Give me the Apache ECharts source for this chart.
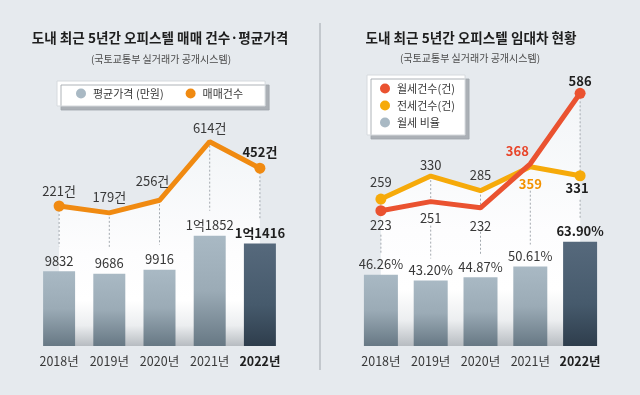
<!DOCTYPE html>
<html><head><meta charset="utf-8">
<script src="https://cdn.jsdelivr.net/npm/echarts@6/dist/echarts.min.js"></script>
<style>html,body{margin:0;padding:0;background:#e6eaee}#c{width:640px;height:395px}</style>
</head><body><div id="c"></div>
<script>
// ---------- data ----------
const years = ['2018년', '2019년', '2020년', '2021년', '2022년'];
const avgPrice = [9832, 9686, 9916, 11852, 11416];      // 평균가격 (만원)
const salesCount = [221, 179, 256, 614, 452];           // 매매건수
const monthlyRent = [223, 251, 232, 368, 586];          // 월세건수(건)
const jeonseCount = [259, 330, 285, 359, 331];          // 전세건수(건)
const monthlyRatio = [46.26, 43.20, 44.87, 50.61, 63.90]; // 월세 비율 (%)

const leftTitle = '도내 최근 5년간 오피스텔 매매 건수·평균가격';
const rightTitle = '도내 최근 5년간 오피스텔 임대차 현황';
const sourceText = '(국토교통부 실거래가 공개시스템)';
const leftNames = ['평균가격 (만원)', '매매건수'];
const rightNames = ['월세건수(건)', '전세건수(건)', '월세 비율'];

// ---------- style ----------
const FONT = '"Noto Sans CJK KR", "Noto Sans", sans-serif';
const C = {
  bg: '#e6eaee', text: '#383838', strong: '#1e1e1e',
  orange: '#f08a11', red: '#ea5230', yellow: '#f6aa0a', grey: '#a9b9c4'
};
const lightBar = {type:'linear', x:0, y:0, x2:0, y2:1, colorStops:[
  {offset:0, color:'#a9b9c4'}, {offset:0.5, color:'#9babb6'}, {offset:1, color:'#677884'}]};
const darkBar = {type:'linear', x:0, y:0, x2:0, y2:1, colorStops:[
  {offset:0, color:'#56697c'}, {offset:0.6, color:'#465a6c'}, {offset:1, color:'#2e3d4c'}]};
function areaGrad(y0) {
  return {type:'linear', x:0, y:y0, x2:0, y2:346, global:true, colorStops:[
    {offset:0, color:'#f2f5f7'}, {offset:0.55, color:'#fdfdfe'}, {offset:0.78, color:'#ffffff'},
    {offset:0.9, color:'#eceef0'}, {offset:1, color:'#b7bcc1'}]};
}
// hidden value-axis ranges (layout)
const AX = { lBar:[5594, 20685], lLine:[-634.7, 991], rBar:[8.146, 150.3], rLine:[-195.4, 627.1] };

const labelBase = {show:true, fontSize:13, color:C.text, fontFamily:FONT};
const endSym = (i) => (i === 0 || i === 4) ? 11 : 0;

// per-point label tweaks (style)
const salesLabel = [
  {position:'top', distance:3}, {position:'top', distance:9},
  {position:'top', distance:13, offset:[-7,0]}, {position:'top', distance:7},
  {position:'top', distance:4, fontWeight:'bold', color:C.strong}];
const rentLabel = [
  {position:'bottom', distance:2}, {position:'bottom', distance:10},
  {position:'bottom', distance:12}, {position:'top', distance:6, offset:[-13,0], fontWeight:'bold', color:'#e8452a'},
  {position:'top', distance:0, fontWeight:'bold', color:C.strong}];
const jeonseLabel = [
  {position:'top', distance:5}, {position:'top', distance:5},
  {position:'top', distance:9}, {position:'bottom', distance:11, fontWeight:'bold', color:'#f39200'},
  {position:'bottom', distance:0, offset:[-3,0], fontWeight:'bold', color:C.strong}];

function lineData(vals, labels) {
  return vals.map((v, i) => ({value:v, symbolSize:endSym(i), label:Object.assign({}, labelBase, labels[i])}));
}
function barData(vals) {
  return vals.map((v, i) => ({value:v, itemStyle:{color: i === 4 ? darkBar : lightBar},
    label: i === 4 ? {fontWeight:'bold', color:C.strong} : {}}));
}
const fmtPrice = (p) => { const v = p.value; return v >= 10000 ? Math.floor(v/10000) + '억' + (v % 10000) : String(v); };
const fmtPct = (p) => p.value.toFixed(2) + '%';

const xData = years.map((y, i) => i === 4 ? {value:y, textStyle:{fontWeight:'bold', color:C.strong}} : y);
function xAxis(g) {
  return {type:'category', gridIndex:g, data:xData, boundaryGap:true,
    axisLine:{show:false}, axisTick:{show:false}, splitLine:{show:false},
    axisLabel:{interval:0, margin:9, fontSize:12.5, color:C.text, fontFamily:FONT}};
}
function yAxis(g, r) { return {type:'value', gridIndex:g, min:r[0], max:r[1], show:false, splitLine:{show:false}}; }

const legendCommon = {
  icon:'circle', itemWidth:10, itemHeight:10, backgroundColor:'#ffffff',
  borderColor:'#d6dade', borderWidth:1, borderRadius:0,
  shadowColor:'rgba(160,166,172,0.85)', shadowOffsetX:4, shadowOffsetY:4, shadowBlur:0,
  textStyle:{fontSize:11, color:C.text, fontFamily:FONT, padding:[0,0,0,2]}, selectedMode:false
};

const titles = [
  {type:'text', x:160, y:38, z:10, style:{text:leftTitle, fill:C.strong, font:'bold 13.6px ' + FONT, align:'center', verticalAlign:'middle'}},
  {type:'text', x:161, y:59, z:10, style:{text:sourceText, fill:'#4a4a4a', font:'10px ' + FONT, align:'center', verticalAlign:'middle'}},
  {type:'text', x:471, y:38, z:10, style:{text:rightTitle, fill:C.strong, font:'bold 13.6px ' + FONT, align:'center', verticalAlign:'middle'}},
  {type:'text', x:470, y:58, z:10, style:{text:sourceText, fill:'#4a4a4a', font:'10px ' + FONT, align:'center', verticalAlign:'middle'}},
  {type:'line', z:10, shape:{x1:320, y1:23, x2:320, y2:370}, style:{stroke:'#c3c8cd', lineWidth:2}}
];

const chart = echarts.init(document.getElementById('c'), null, {renderer:'canvas'});
const option = {
  animation:false,
  backgroundColor:C.bg,
  textStyle:{fontFamily:FONT},
  graphic:{elements:titles},
  legend:[
    Object.assign({}, legendCommon, {orient:'horizontal', left:57, top:81, padding:[7,22,7,19], itemGap:22,
      data:[{name:leftNames[0], itemStyle:{color:C.grey}}, {name:leftNames[1], itemStyle:{color:C.orange}}]}),
    Object.assign({}, legendCommon, {orient:'vertical', left:367, top:75, padding:[8,10,7,13], itemGap:6,
      data:[{name:rightNames[0], itemStyle:{color:C.red}}, {name:rightNames[1], itemStyle:{color:C.yellow}},
            {name:rightNames[2], itemStyle:{color:C.grey}}]})
  ],
  grid:[
    {left:34, right:355, top:80, bottom:49},
    {left:356, right:35, top:80, bottom:49}
  ],
  xAxis:[xAxis(0), xAxis(1)],
  yAxis:[yAxis(0, AX.lBar), yAxis(0, AX.lLine), yAxis(1, AX.rBar), yAxis(1, AX.rLine)],
  series:[
    // area fills (under lines)
    {type:'line', name:'_areaL', xAxisIndex:0, yAxisIndex:1, data:salesCount, symbol:'none', silent:true, z:1,
      lineStyle:{width:0}, areaStyle:{origin:'start', color:areaGrad(140), opacity:1}},
    {type:'line', name:'_areaR1', xAxisIndex:1, yAxisIndex:3, data:monthlyRent, symbol:'none', silent:true, z:1,
      lineStyle:{width:0}, areaStyle:{origin:'start', color:areaGrad(90), opacity:1}},
    {type:'line', name:'_areaR2', xAxisIndex:1, yAxisIndex:3, data:jeonseCount, symbol:'none', silent:true, z:1,
      lineStyle:{width:0}, areaStyle:{origin:'start', color:areaGrad(90), opacity:1}},
    // bars
    {type:'bar', name:leftNames[0], xAxisIndex:0, yAxisIndex:0, barWidth:32, z:3, data:barData(avgPrice),
      label:Object.assign({}, labelBase, {position:'top', distance:4, formatter:fmtPrice})},
    {type:'bar', name:rightNames[2], xAxisIndex:1, yAxisIndex:2, barWidth:34, z:3, data:barData(monthlyRatio),
      label:Object.assign({}, labelBase, {position:'top', distance:4, formatter:fmtPct})},
    // lines
    {type:'line', name:leftNames[1], xAxisIndex:0, yAxisIndex:1, z:4, symbol:'circle',
      data:lineData(salesCount, salesLabel), color:C.orange,
      lineStyle:{width:5, color:C.orange}, itemStyle:{color:C.orange},
      label:Object.assign({}, labelBase, {formatter:'{c}건'})},
    {type:'line', name:rightNames[1], xAxisIndex:1, yAxisIndex:3, z:4, symbol:'circle',
      data:lineData(jeonseCount, jeonseLabel), color:C.yellow,
      lineStyle:{width:5, color:C.yellow}, itemStyle:{color:C.yellow}, label:Object.assign({}, labelBase)},
    {type:'line', name:rightNames[0], xAxisIndex:1, yAxisIndex:3, z:5, symbol:'circle',
      data:lineData(monthlyRent, rentLabel), color:C.red,
      lineStyle:{width:5, color:C.red}, itemStyle:{color:C.red}, label:Object.assign({}, labelBase)}
  ]
};
chart.setOption(option);

// dashed guide lines, positioned through the chart's own scales
const dashes = [];
const dashStyle = {stroke:'#a3a9af', lineWidth:1, lineDash:[2,2]};
for (let i = 0; i < years.length; i++) {
  const p = chart.convertToPixel({xAxisIndex:0, yAxisIndex:1}, [i, salesCount[i]]);
  const b = chart.convertToPixel({xAxisIndex:0, yAxisIndex:0}, [i, avgPrice[i]]);
  dashes.push({type:'line', z:2, silent:true, shape:{x1:p[0], y1:p[1], x2:p[0], y2:b[1] - 25}, style:dashStyle});
  const r = chart.convertToPixel({xAxisIndex:1, yAxisIndex:3}, [i, monthlyRent[i]]);
  const j = chart.convertToPixel({xAxisIndex:1, yAxisIndex:3}, [i, jeonseCount[i]]);
  const rb = chart.convertToPixel({xAxisIndex:1, yAxisIndex:2}, [i, monthlyRatio[i]]);
  const top = Math.min(r[1], j[1]), low = Math.max(r[1], j[1]);
  dashes.push({type:'line', z:2, silent:true, shape:{x1:r[0], y1:top, x2:r[0], y2:low}, style:dashStyle});
  dashes.push({type:'line', z:2, silent:true, shape:{x1:r[0], y1:low + 24, x2:r[0], y2:rb[1] - 22}, style:dashStyle});
}
chart.setOption({graphic:{elements:titles.concat(dashes)}});
</script>
</body></html>
